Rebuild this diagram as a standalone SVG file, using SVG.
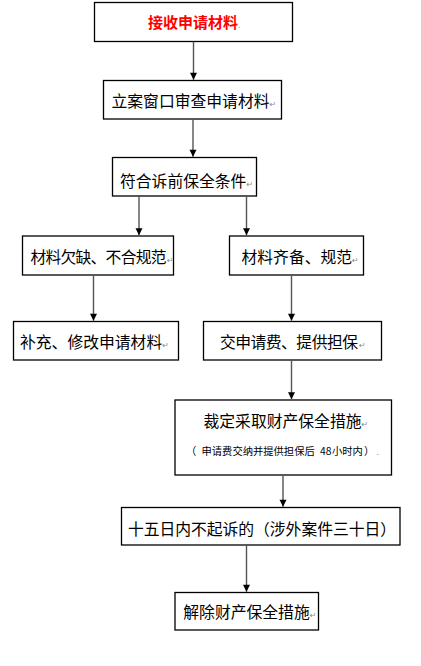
<svg xmlns="http://www.w3.org/2000/svg" width="421" height="666" viewBox="0 0 421 666">
<style>
.box{fill:#fff;stroke:#000;stroke-width:1.3}
.t{font-family:"Noto Sans CJK SC","Microsoft YaHei",sans-serif;font-size:15.8px;fill:#000}
.s{font-family:"Noto Sans CJK SC",sans-serif;font-size:10.3px;fill:#000}
.pm{font-family:"DejaVu Sans",sans-serif;font-size:8px;fill:#888}
.ln{stroke:#555;stroke-width:1.4;fill:none}
</style>
<defs>
<marker id="ah" markerUnits="userSpaceOnUse" markerWidth="8" markerHeight="8" refX="7" refY="4" orient="auto" viewBox="0 0 8 8" overflow="visible">
<path d="M0,0.5 L7,4 L0,7.5 Z" fill="#000" stroke="none"/>
</marker>
</defs>
<rect width="421" height="666" fill="#fff"/>
<g id="n1">
<rect class="box" x="94.5" y="2.5" width="198" height="39"/>
<text x="148" y="28" style="font-family:'Noto Sans CJK SC',sans-serif;font-size:15px;font-weight:bold;fill:#f00">接收申请材料<tspan class="pm" style="font-weight:normal">.</tspan></text>
</g>
<g id="n2">
<rect class="box" x="103.5" y="80.5" width="178" height="38.5"/>
<text class="t" x="111.5" y="107">立案窗口审查申请材料<tspan class="pm">↵</tspan></text>
</g>
<g id="n3">
<rect class="box" x="112.5" y="157.5" width="144" height="38.5"/>
<text class="t" x="120" y="187">符合诉前保全条件<tspan class="pm">↵</tspan></text>
</g>
<g id="n4a">
<rect class="box" x="22.5" y="236" width="151" height="39"/>
<text class="t" x="30.5" y="263" textLength="136">材料欠缺、不合规范</text><text class="pm" x="167" y="263">↵</text>
</g>
<g id="n4b">
<rect class="box" x="229.5" y="236" width="134" height="39"/>
<text class="t" x="241.5" y="263">材料齐备、规范<tspan class="pm">↵</tspan></text>
</g>
<g id="n5a">
<rect class="box" x="13.5" y="321.5" width="165" height="38.5"/>
<text class="t" x="20" y="348">补充、修改申请材料<tspan class="pm">↵</tspan></text>
</g>
<g id="n5b">
<rect class="box" x="203.5" y="321.5" width="178" height="38.5"/>
<text class="t" x="220" y="348" textLength="138">交申请费、提供担保</text><text class="pm" x="359" y="348">↵</text>
</g>
<g id="n6">
<rect class="box" x="175" y="400" width="216.5" height="75"/>
<text class="t" x="203.5" y="427">裁定采取财产保全措施<tspan class="pm">↵</tspan></text>
<text class="s" y="455"><tspan x="186">（</tspan><tspan x="201.5">申请费交纳并提供担保后</tspan><tspan x="320">48</tspan><tspan x="332">小时内</tspan><tspan x="364">）</tspan></text>
<text class="pm" x="376.5" y="455">.</text>
</g>
<g id="n7">
<rect class="box" x="121.5" y="507.5" width="278.5" height="37.5"/>
<text class="t" x="128" y="535" textLength="268">十五日内不起诉的（涉外案件三十日）</text>
</g>
<g id="n8">
<rect class="box" x="175" y="592.5" width="143.5" height="37.5"/>
<text class="t" x="183.3" y="618">解除财产保全措施<tspan class="pm">↵</tspan></text>
</g>
<g id="connectors">
<line class="ln" x1="193.5" y1="41.5" x2="193.5" y2="79.8" marker-end="url(#ah)"/>
<line class="ln" x1="193" y1="119" x2="193" y2="156.8" marker-end="url(#ah)"/>
<line class="ln" x1="139" y1="196" x2="139" y2="235.3" marker-end="url(#ah)"/>
<line class="ln" x1="246.5" y1="196" x2="246.5" y2="235.3" marker-end="url(#ah)"/>
<line class="ln" x1="93.5" y1="275" x2="93.5" y2="320.8" marker-end="url(#ah)"/>
<line class="ln" x1="291.5" y1="275" x2="291.5" y2="320.8" marker-end="url(#ah)"/>
<line class="ln" x1="291.5" y1="360" x2="291.5" y2="399.3" marker-end="url(#ah)"/>
<line class="ln" x1="283" y1="475" x2="283" y2="506.8" marker-end="url(#ah)"/>
<line class="ln" x1="246.5" y1="545" x2="246.5" y2="591.8" marker-end="url(#ah)"/>
</g>
</svg>
